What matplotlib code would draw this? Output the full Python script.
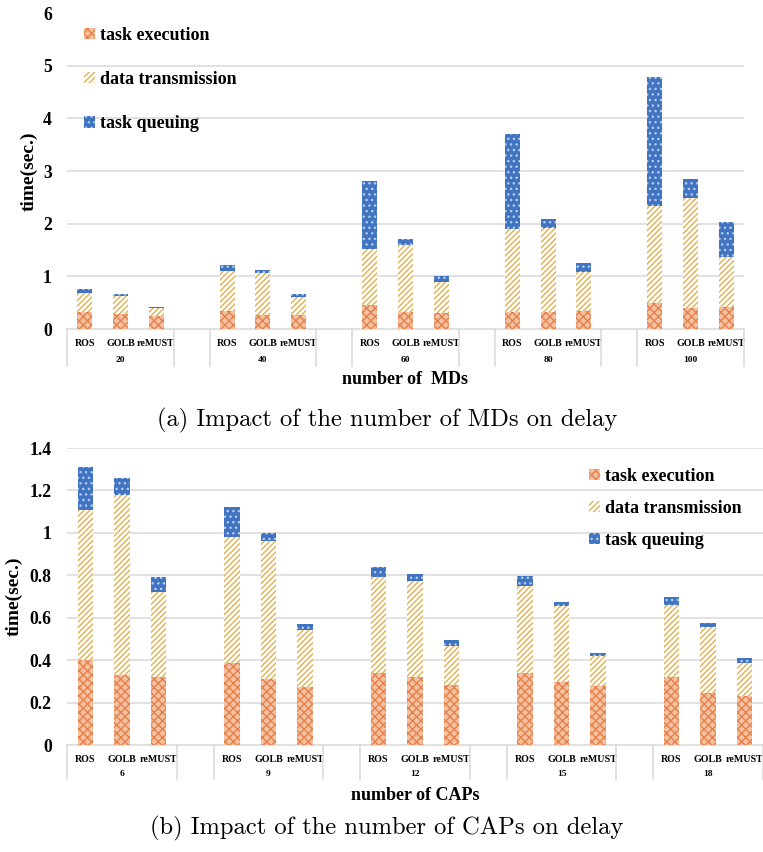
import matplotlib
matplotlib.use('Agg')
import matplotlib.pyplot as plt
import numpy as np
from matplotlib.patches import Patch
from matplotlib.transforms import blended_transform_factory

methods = ['ROS', 'GOLB', 'reMUST']
series = ['task execution', 'data transmission', 'task queuing']

# (a) number of MDs: rows = groups, cols = ROS, GOLB, reMUST
md_groups = ['20', '40', '60', '80', '100']
md_exec = [[0.33, 0.28, 0.25], [0.35, 0.26, 0.26], [0.46, 0.33, 0.30], [0.33, 0.33, 0.34], [0.49, 0.39, 0.41]]
md_trans = [[0.35, 0.35, 0.14], [0.76, 0.81, 0.35], [1.05, 1.26, 0.60], [1.56, 1.59, 0.74], [1.85, 2.09, 0.95]]
md_queue = [[0.08, 0.03, 0.03], [0.10, 0.05, 0.05], [1.30, 0.12, 0.11], [1.81, 0.17, 0.17], [2.45, 0.36, 0.68]]

# (b) number of CAPs
cap_groups = ['6', '9', '12', '15', '18']
cap_exec = [[0.40, 0.33, 0.32], [0.385, 0.31, 0.275], [0.34, 0.32, 0.285], [0.34, 0.295, 0.28], [0.32, 0.245, 0.23]]
cap_trans = [[0.71, 0.85, 0.40], [0.595, 0.65, 0.265], [0.45, 0.455, 0.18], [0.41, 0.36, 0.14], [0.34, 0.31, 0.155]]
cap_queue = [[0.20, 0.08, 0.07], [0.14, 0.04, 0.03], [0.05, 0.03, 0.03], [0.045, 0.02, 0.013], [0.04, 0.02, 0.023]]

plt.rcParams['hatch.linewidth'] = 1.0
SERIF = ['Liberation Serif', 'DejaVu Serif']
styles = [
    dict(facecolor='#F4C2A3', edgecolor='#E6814A', hatch='xxxx'),
    dict(facecolor='white', edgecolor='#E0B050', hatch='//////'),
    dict(facecolor='#4174C0', edgecolor='#B3CBEE', hatch='...'),
]
GRID = '#DCDCDC'

fig = plt.figure(figsize=(7.63, 8.52), dpi=100)
W, H = 763, 852


def draw(ax, groups, exe, tra, que, ymax, yticks, ylabels, gridvals, xlabel, legend_anchor, spacing):
    n = len(groups)
    x = np.array([4 * g + m for g in range(n) for m in range(3)], dtype=float)
    e = np.array(exe).ravel()
    t = np.array(tra).ravel()
    q = np.array(que).ravel()
    bw = 0.42
    ax.bar(x, e, bw, linewidth=0, **styles[0], zorder=3)
    ax.bar(x, t, bw, bottom=e, linewidth=0, **styles[1], zorder=3)
    ax.bar(x, q, bw, bottom=e + t, linewidth=0, **styles[2], zorder=3)
    ax.set_xlim(-0.5, 4 * n - 1.5)
    ax.set_ylim(0, ymax)
    for gv in gridvals:
        ax.axhline(gv, color=GRID, lw=1.2, zorder=1)
    ax.axhline(0, color=GRID, lw=1.2, zorder=1, clip_on=False)
    for s in ax.spines.values():
        s.set_visible(False)
    ax.set_yticks(yticks)
    ax.set_yticklabels(ylabels, fontfamily=SERIF, fontweight='bold', fontsize=12.7)
    ax.tick_params(axis='y', length=0, pad=11)
    ax.set_xticks(x)
    ax.set_xticklabels(methods * n, fontfamily=SERIF, fontweight='bold', fontsize=7.2)
    ax.tick_params(axis='x', length=0, pad=7)
    tr = blended_transform_factory(ax.transData, ax.transAxes)
    seps = [-0.5]
    for g in range(n):
        ax.text(4 * g + 1, -0.097, groups[g], transform=tr, ha='center', va='center',
                fontfamily=SERIF, fontweight='bold', fontsize=6.8)
        if g > 0:
            seps.append(4 * g - 0.5)
        seps.append(4 * g + 2.5)
    for sx in seps:
        ax.plot([sx, sx], [0, -0.116], transform=tr, color=GRID, lw=1.2, clip_on=False)
    ax.set_xlabel(xlabel, fontfamily=SERIF, fontweight='bold', fontsize=13)
    ax.set_ylabel('time(sec.)', fontfamily=SERIF, fontweight='bold', fontsize=14)
    handles = [Patch(linewidth=0, **st) for st in styles]
    ax.legend(handles, series, loc='upper left', bbox_to_anchor=legend_anchor,
              bbox_transform=fig.transFigure, frameon=False,
              prop=dict(family=SERIF, weight='bold', size=13),
              handlelength=0.6, handleheight=0.6, handletextpad=0.3,
              labelspacing=spacing, borderaxespad=0, borderpad=0)
    return ax


ax1 = fig.add_axes([67 / W, 1 - 329 / H, (744 - 67) / W, (329 - 13) / H])
draw(ax1, md_groups, md_exec, md_trans, md_queue, 6, list(range(7)),
     [str(v) for v in range(7)], [1, 2, 3, 4, 5], 'number of  MDs',
     (84 / W, 1 - 27 / H), 1.5)
ax1.yaxis.set_label_coords(-0.043, 0.5)
ax1.xaxis.set_label_coords(0.5, -0.134)

ax2 = fig.add_axes([67 / W, 1 - 745 / H, (763 - 67) / W, (745 - 448) / H])
draw(ax2, cap_groups, cap_exec, cap_trans, cap_queue, 1.4,
     [0, 0.2, 0.4, 0.6, 0.8, 1.0, 1.2, 1.4],
     ['0', '0.2', '0.4', '0.6', '0.8', '1', '1.2', '1.4'],
     [0.2, 0.4, 0.6, 0.8, 1.0, 1.2, 1.4], 'number of CAPs',
     (589 / W, 1 - 468 / H), 0.83)
ax2.yaxis.set_label_coords(-0.064, 0.5)
ax2.xaxis.set_label_coords(0.5, -0.143)

fig.text(387 / W, 1 - 420 / H, '(a) Impact of the number of MDs on delay',
         ha='center', va='center', fontfamily='cmr10', fontsize=17.7)
fig.text(387 / W, 1 - 828 / H, '(b) Impact of the number of CAPs on delay',
         ha='center', va='center', fontfamily='cmr10', fontsize=17.7)

fig.savefig('out.png', dpi=100, facecolor='white')
